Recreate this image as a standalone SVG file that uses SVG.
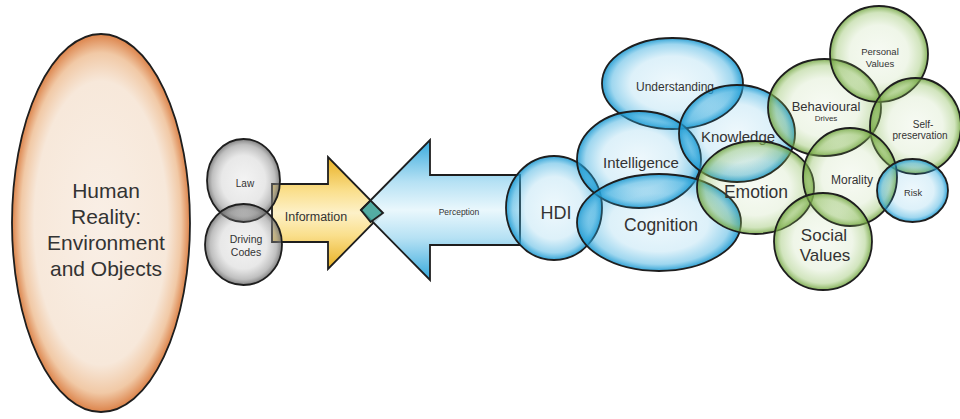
<svg xmlns="http://www.w3.org/2000/svg" width="960" height="419" viewBox="0 0 960 419">
<defs>
<radialGradient id="gBlue" cx="50%" cy="50%" r="50%">
<stop offset="0" stop-color="#2aa6dc" stop-opacity="0.08"/>
<stop offset="0.6" stop-color="#2aa6dc" stop-opacity="0.16"/>
<stop offset="0.86" stop-color="#2aa6dc" stop-opacity="0.45"/>
<stop offset="1" stop-color="#1c98d0" stop-opacity="0.9"/>
</radialGradient>
<radialGradient id="gGreen" cx="50%" cy="50%" r="50%">
<stop offset="0" stop-color="#8dbd5c" stop-opacity="0.07"/>
<stop offset="0.6" stop-color="#8dbd5c" stop-opacity="0.14"/>
<stop offset="0.86" stop-color="#8dbd5c" stop-opacity="0.4"/>
<stop offset="1" stop-color="#6fa23e" stop-opacity="0.85"/>
</radialGradient>
<radialGradient id="gGray" cx="50%" cy="50%" r="50%">
<stop offset="0" stop-color="#8c8c8c" stop-opacity="0.1"/>
<stop offset="0.6" stop-color="#8c8c8c" stop-opacity="0.2"/>
<stop offset="0.86" stop-color="#808080" stop-opacity="0.5"/>
<stop offset="1" stop-color="#6a6a6a" stop-opacity="0.85"/>
</radialGradient>
<radialGradient id="gOrange" cx="50%" cy="50%" r="50%">
<stop offset="0" stop-color="#f9efe6"/>
<stop offset="0.75" stop-color="#f7e8da"/>
<stop offset="0.9" stop-color="#f1c9a6"/>
<stop offset="1" stop-color="#dc834a"/>
</radialGradient>
<linearGradient id="gYellow" x1="0" y1="0" x2="0" y2="1">
<stop offset="0" stop-color="#e8b022"/>
<stop offset="0.3" stop-color="#fadf8c"/>
<stop offset="0.5" stop-color="#fdf1c8"/>
<stop offset="0.7" stop-color="#fadf8c"/>
<stop offset="1" stop-color="#e8b022"/>
</linearGradient>
<linearGradient id="gArrowBlue" x1="0" y1="0" x2="0" y2="1">
<stop offset="0" stop-color="#27a3da" stop-opacity="0.95"/>
<stop offset="0.3" stop-color="#a9dcf2" stop-opacity="0.85"/>
<stop offset="0.5" stop-color="#e6f6fc" stop-opacity="0.85"/>
<stop offset="0.7" stop-color="#a9dcf2" stop-opacity="0.85"/>
<stop offset="1" stop-color="#27a3da" stop-opacity="0.95"/>
</linearGradient>
</defs>
<style>
.ln{stroke:#1e1e1e;stroke-width:1.8}
.t{font-family:"Liberation Sans",Arial,sans-serif;fill:#333;text-anchor:middle}
.blue{fill:url(#gBlue)}
.green{fill:url(#gGreen)}
.gray{fill:url(#gGray)}
</style>
<rect width="960" height="419" fill="#ffffff"/>

<g id="human-reality">
<ellipse cx="101" cy="223" rx="89" ry="189" fill="url(#gOrange)" class="ln"/>
<text class="t" font-size="21"><tspan x="106" y="198">Human</tspan><tspan x="106" y="224">Reality:</tspan><tspan x="106" y="250">Environment</tspan><tspan x="106" y="276">and Objects</tspan></text>
</g>

<g id="connectors">
<g id="information">
<polygon points="272,184 328,184 328,157 383,213 328,269 328,242 272,242" fill="url(#gYellow)" class="ln"/>
<text class="t" x="316" y="220.5" font-size="12.5">Information</text>
</g>
<g id="perception">
<polygon points="361,210 430,140 430,175 520,175 520,245 430,245 430,280" fill="url(#gArrowBlue)" class="ln"/>
<polygon points="361,210 370.6,200.6 383,213 370.6,222" fill="#3a9f94" fill-opacity="0.85" class="ln" stroke-width="1.2"/>
<text class="t" x="459" y="215" font-size="8.5">Perception</text>
</g>
</g>

<g id="law">
<ellipse cx="243.5" cy="180.5" rx="36.5" ry="41.5" class="gray ln"/>
<text class="t" x="245" y="187" font-size="10">Law</text>
</g>
<g id="driving-codes">
<ellipse cx="243.5" cy="244.5" rx="38.5" ry="40.5" class="gray ln"/>
<text class="t" font-size="10.5"><tspan x="246" y="243">Driving</tspan><tspan x="246" y="255.5">Codes</tspan></text>
</g>

<g id="hdi">
<ellipse cx="554" cy="208" rx="48" ry="52" class="blue ln"/>
<text class="t" x="556" y="219" font-size="18">HDI</text>
</g>
<g id="understanding">
<ellipse cx="672.5" cy="83.5" rx="70.5" ry="45.5" class="blue ln"/>
<text class="t" x="675" y="91" font-size="12">Understanding</text>
</g>
<g id="intelligence">
<ellipse cx="639" cy="159.5" rx="62" ry="48.5" class="blue ln"/>
<text class="t" x="641" y="168" font-size="15">Intelligence</text>
</g>
<g id="cognition">
<ellipse cx="659" cy="222.5" rx="82" ry="48.5" class="blue ln"/>
<text class="t" x="661" y="231" font-size="17.5">Cognition</text>
</g>
<g id="knowledge">
<ellipse cx="737" cy="133.5" rx="58" ry="48.5" class="blue ln"/>
<text class="t" x="738" y="142" font-size="15">Knowledge</text>
</g>

<g id="emotion">
<ellipse cx="755.5" cy="187.5" rx="58.5" ry="46.5" class="green ln"/>
<text class="t" x="756" y="198" font-size="17.5">Emotion</text>
</g>
<g id="behavioural-drives">
<ellipse cx="824.5" cy="107.5" rx="56.5" ry="48.5" class="green ln"/>
<text class="t" x="826" y="110.5" font-size="13">Behavioural</text>
<text class="t" x="826" y="121" font-size="8">Drives</text>
</g>
<g id="personal-values">
<ellipse cx="879" cy="54" rx="49" ry="48" class="green ln"/>
<text class="t" font-size="9.5"><tspan x="880" y="54.5">Personal</tspan><tspan x="880" y="66.5">Values</tspan></text>
</g>
<g id="self-preservation">
<ellipse cx="915.5" cy="126" rx="45.5" ry="48" class="green ln"/>
<text class="t" font-size="10"><tspan x="923" y="127.5">Self-</tspan><tspan x="920" y="138.5">preservation</tspan></text>
</g>
<g id="morality">
<ellipse cx="850" cy="177" rx="47" ry="49" class="green ln"/>
<text class="t" x="852" y="184" font-size="12">Morality</text>
</g>
<g id="social-values">
<ellipse cx="823" cy="241.5" rx="49" ry="48.5" class="green ln"/>
<text class="t" font-size="17"><tspan x="824" y="241">Social</tspan><tspan x="825" y="261">Values</tspan></text>
</g>
<g id="risk">
<ellipse cx="912.5" cy="190.5" rx="35.5" ry="31.5" class="blue ln"/>
<text class="t" x="913" y="196" font-size="9.3">Risk</text>
</g>
</svg>
